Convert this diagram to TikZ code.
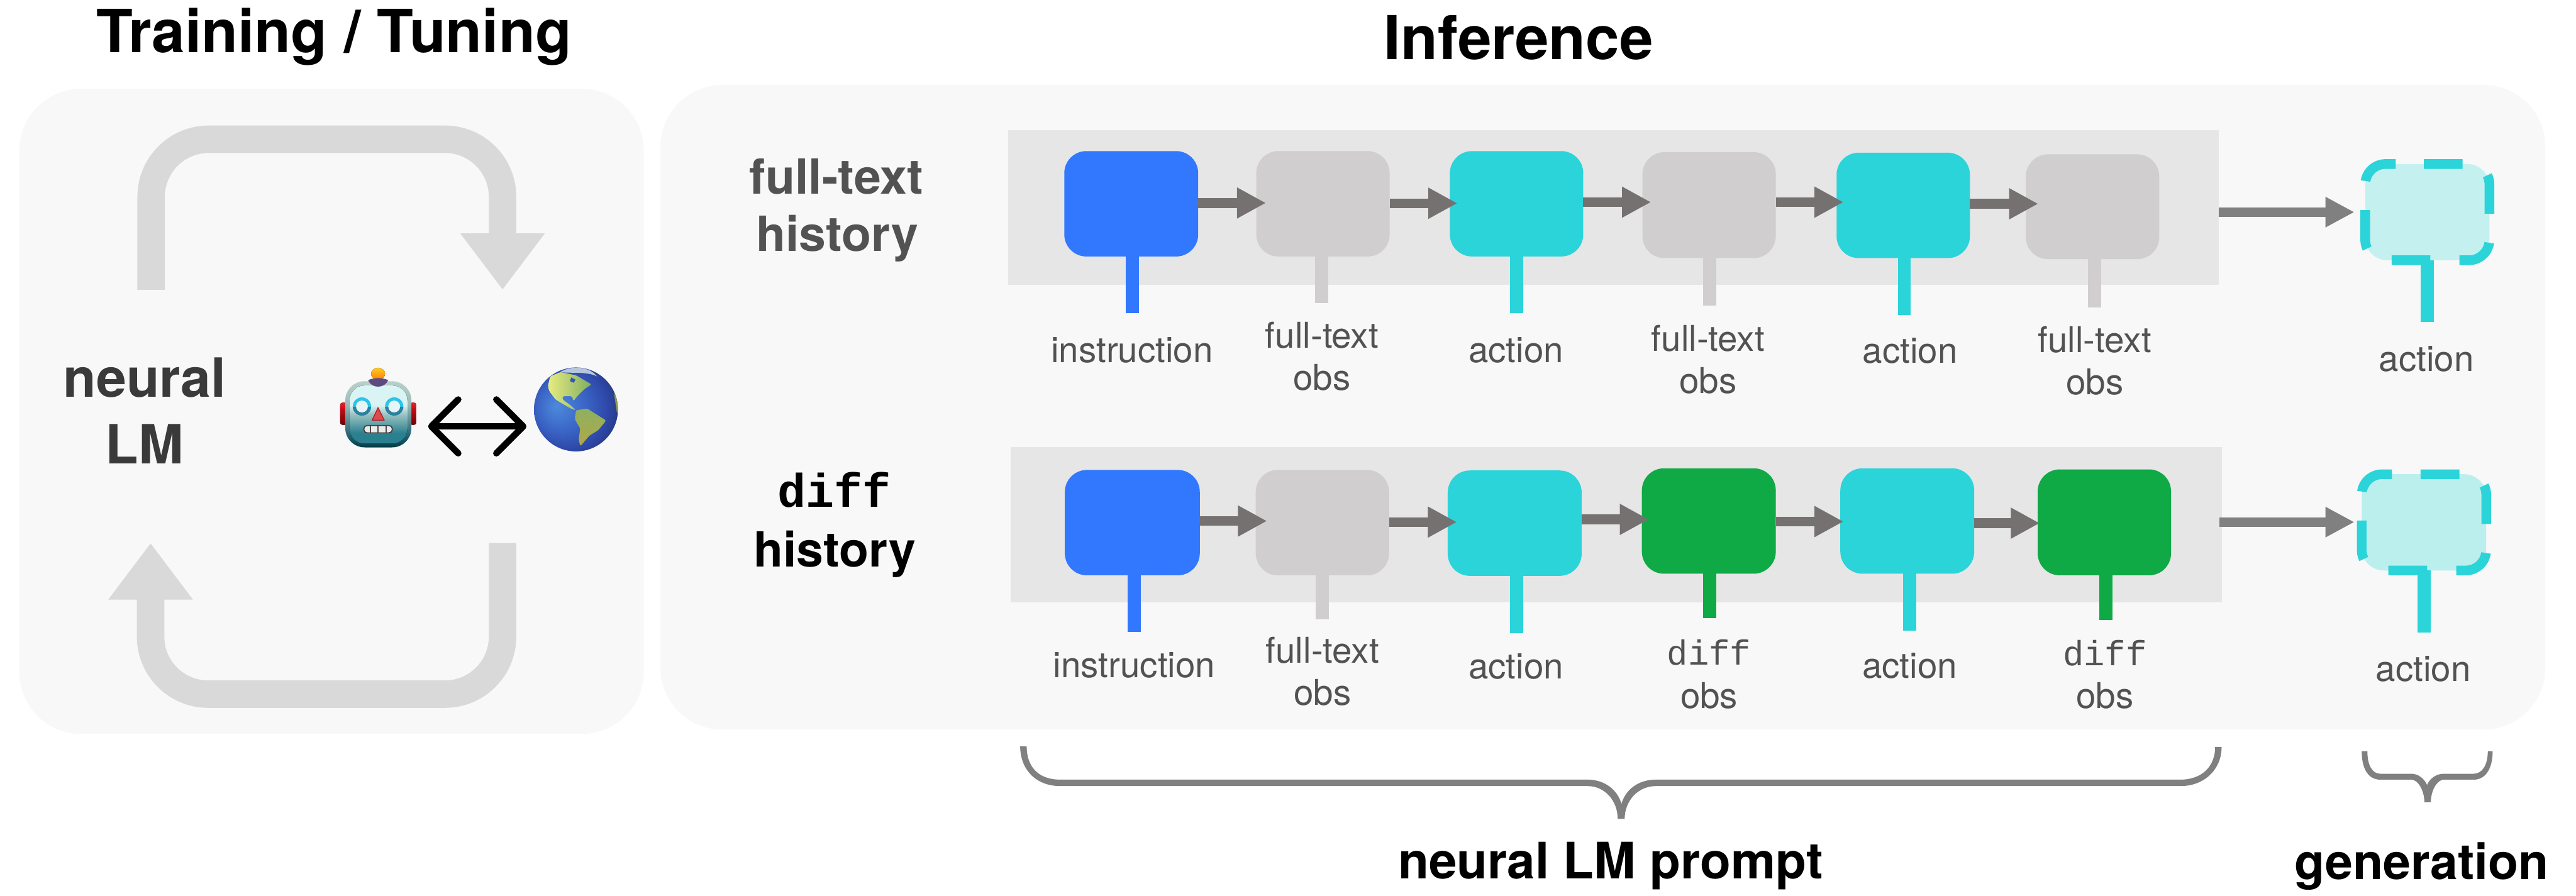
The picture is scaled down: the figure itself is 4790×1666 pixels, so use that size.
\documentclass[tikz,border=0pt]{standalone}
\usepackage{fontspec}
\setmainfont{TeX Gyre Heros}
\newfontfamily\lmono{Liberation Mono}
\usetikzlibrary{arrows.meta,calc,shapes.geometric}
\definecolor{panelc}{HTML}{F8F8F8}
\definecolor{bandc}{HTML}{E6E6E6}
\definecolor{bluec}{HTML}{3278FF}
\definecolor{grayc}{HTML}{D0CECE}
\definecolor{tealc}{HTML}{2BD4D9}
\definecolor{greenc}{HTML}{0FA945}
\definecolor{flowc}{HTML}{767171}
\definecolor{genflowc}{HTML}{808080}
\definecolor{txtc}{HTML}{525252}
\definecolor{loopc}{HTML}{D9D9D9}
\definecolor{genfa}{HTML}{C5F0F0}
\definecolor{genfb}{HTML}{BBEFED}
\definecolor{neuralc}{HTML}{3A3A3A}
\definecolor{nameL}{HTML}{E8EC80}
\definecolor{nameR}{HTML}{7FAE62}
\definecolor{sameT}{HTML}{8FB060}
\definecolor{sameB}{HTML}{B0A848}
\definecolor{africa}{HTML}{8A9A48}
\definecolor{arctic}{HTML}{B8C6DC}
\definecolor{hudson}{HTML}{3358B0}
\definecolor{capc}{HTML}{5C4B80}
\definecolor{eyeup}{HTML}{2CC4EA}
\definecolor{eyelow}{HTML}{2F7F9E}
\definecolor{eyein}{HTML}{E6F6F8}
\definecolor{nosec}{HTML}{DE4A4E}
\definecolor{nosee}{HTML}{A82020}
\pgfdeclareverticalshading{robotout}{100bp}{rgb(0bp)=(0.01,0.23,0.27); rgb(25bp)=(0.01,0.23,0.27); rgb(32bp)=(0.10,0.36,0.42); rgb(58bp)=(0.62,0.74,0.72); rgb(75bp)=(0.72,0.82,0.79); rgb(100bp)=(0.72,0.82,0.79)}
\pgfdeclareverticalshading{robotin}{100bp}{rgb(0bp)=(0.17,0.50,0.56); rgb(25bp)=(0.17,0.50,0.56); rgb(34bp)=(0.17,0.50,0.56); rgb(50bp)=(0.60,0.76,0.76); rgb(58bp)=(0.86,0.95,0.95); rgb(75bp)=(0.85,0.96,0.96); rgb(100bp)=(0.85,0.96,0.96)}
\pgfdeclareverticalshading{earshade}{100bp}{rgb(0bp)=(0.45,0,0); rgb(25bp)=(0.45,0,0); rgb(60bp)=(0.75,0.05,0.1); rgb(75bp)=(0.93,0.12,0.15); rgb(100bp)=(0.93,0.12,0.15)}
\pgfdeclareverticalshading{bulb}{100bp}{rgb(0bp)=(1,0.50,0); rgb(25bp)=(1,0.50,0); rgb(75bp)=(1,0.80,0.15); rgb(100bp)=(1,0.80,0.15)}
\pgfdeclareradialshading{globeshade}{\pgfpoint{-12bp}{2bp}}{rgb(0bp)=(0.30,0.54,0.86); rgb(14bp)=(0.23,0.40,0.78); rgb(25bp)=(0.18,0.28,0.66); rgb(32bp)=(0.14,0.22,0.48); rgb(50bp)=(0.1,0.14,0.3)}
\tikzset{
  boxn/.style={rectangle,rounded corners=0.41cm,inner sep=0pt,outer sep=0pt},
  bandn/.style={rectangle,fill=bandc,inner sep=0pt,outer sep=0pt},
  paneln/.style={rectangle,fill=panelc,rounded corners=1.15cm,inner sep=0pt,outer sep=0pt},
  stemline/.style={line width=0.245cm},
  flow/.style={draw=flowc,line width=0.18cm,-{Triangle[length=0.54cm,width=0.54cm]}},
  genflow/.style={draw=genflowc,line width=0.175cm,-{Triangle[length=0.54cm,width=0.53cm]}},
  looparrow/.style={draw=loopc,line width=0.51cm,rounded corners=1.07cm,-{Triangle[length=1.05cm,width=1.5cm]}},
  gendash/.style={draw=tealc,line width=0.18cm,dash pattern=on 0.72cm off 0.54cm},
  lab/.style={anchor=base,inner sep=0pt,outer sep=0pt,text=txtc,font=\fontsize{18.8pt}{20pt}\selectfont},
  monolab/.style={lab,font=\lmono\fontsize{18.5pt}{20pt}\selectfont},
  hist/.style={anchor=base,inner sep=0pt,outer sep=0pt,font=\bfseries\fontsize{25.6pt}{27pt}\selectfont},
  title/.style={anchor=base,inner sep=0pt,outer sep=0pt,text=black,font=\bfseries\fontsize{#1pt}{#1pt}\selectfont},
  bracefill/.style={fill=genflowc},
}
\newcommand\mkbox[7][boxn]{\node[#1,fill=#7,minimum width={(#4-#2)*0.01cm},minimum height={(#5-#3)*0.01cm}] (#6) at ({(#2+#4)/2},{(#3+#5)/2}) {};}
\newcommand\stem[4]{\coordinate (#1s) at (#2,#3); \draw[stemline,draw=#4] (#1.south -| #1s) -- (#1s);}
\newcommand\flowar[4]{\draw[flow,shorten >=-#4*0.01cm] (#1.east |- 0,#3) -- (#2.west |- 0,#3);}
\begin{document}
\begin{tikzpicture}[x=0.01cm,y=-0.01cm]
\useasboundingbox (0,0) rectangle (4790,1666);
% panels
\mkbox[paneln]{36}{165}{1197}{1365}{trainpanel}{panelc}
\mkbox[paneln]{1228}{158}{4733}{1357}{infpanel}{panelc}
% titles
\node[title=31.5] (ttrain) at (621,98) {Training / Tuning};
\node[title=32] (tinf) at (2824,110) {Inference};
% loop arrows
\coordinate (la) at (281,539); \coordinate (lb) at (281,259); \coordinate (lc) at (934.5,259); \coordinate (ld) at (934.5,539);
\draw[looparrow] (la) -- (lb) -- (lc) -- (ld);
\coordinate (le) at (934.5,1010); \coordinate (lf) at (934.5,1291); \coordinate (lg) at (280,1291); \coordinate (lh) at (280,1010);
\draw[looparrow] (le) -- (lf) -- (lg) -- (lh);
\node[title=28.6,text=neuralc] (neural) at (269,738) {neural};
\node[title=28.6,text=neuralc] (lm) at (269,862) {LM};
% robot
\fill[shading=earshade,rounded corners=0.04cm] (632.5,749) rectangle (645,790);
\fill[shading=earshade,rounded corners=0.04cm] (762,749) rectangle (774,790);
\node[boxn,rounded corners=0.36cm,shading=robotout,minimum width=1.23cm,minimum height=1.23cm] (robot) at (703.5,770.5) {};
\fill[shading=robotin,rounded corners=0.28cm] (650,717) rectangle (757.5,825);
\fill[shading=bulb] (703,695) ellipse [x radius=13,y radius=11];
\fill[capc] (684.6,707) .. controls (695,702) and (711,702) .. (721.7,707) .. controls (718,715) and (712,719) .. (703,719) .. controls (694,719) and (688,715) .. (684.6,707) -- cycle;
\foreach \ex in {673,733}{
  \fill[eyeup] (\ex,756) circle [radius=17];
  \begin{scope}
    \clip (\ex-20,757) rectangle (\ex+20,775);
    \fill[eyelow] (\ex,756) circle [radius=17];
  \end{scope}
  \fill[eyein] (\ex,756) circle [radius=11];
}
\fill[nosec,draw=nosee,line width=0.015cm,line join=round] (703,758) -- (714.5,781.5) -- (692,781.5) -- cycle;
\draw[black!75,fill=black!8,line width=0.02cm,rounded corners=0.06cm] (676.5,791.5) rectangle (729.5,805);
\foreach \mx in {689,703,718}{\draw[black!70,line width=0.025cm] (\mx,791.5) -- (\mx,805);}
% globe
\node[circle,shading=globeshade,minimum size=1.56cm,inner sep=0pt,outer sep=0pt] (globe) at (1071,761.5) {};
\begin{scope}
\clip (1071,761.5) circle [radius=78];
\fill[arctic] (1042,692) .. controls (1060,680) and (1095,680) .. (1110,700) .. controls (1090,690) and (1060,695) .. (1042,692) -- cycle;
\shade[left color=nameL,right color=nameR,rounded corners=0.03cm] (1023,700) -- (1042,692) -- (1071,698) -- (1100,715) -- (1087.5,723) -- (1075,735) -- (1066,746) -- (1064,737) -- (1046,737) -- (1046,743) -- (1060,753) -- (1071,763) -- (1062,760) -- (1048,752) -- (1033,743) -- (1021,727) -- (1019,717) -- cycle;
\fill[hudson] (1062,702) -- (1070,706) -- (1067,712) -- (1060,709) -- cycle;
\shade[top color=sameT,bottom color=sameB,rounded corners=0.03cm] (1071,763) -- (1092,760) -- (1127,782) -- (1112.5,800) -- (1096,810) -- (1079,830) -- (1076,817) -- (1079,797) -- (1069,780) -- cycle;
\fill[africa] (1142,733) -- (1152,733) -- (1152,767) -- (1147,767) -- cycle;
\end{scope}
\draw[line width=0.12cm,{Straight Barb[length=0.5cm,width=1.0cm,round]}-{Straight Barb[length=0.5cm,width=1.0cm,round]},shorten <=0.31cm,shorten >=0.14cm] (robot.east |- 0,793) -- (globe.west |- 0,793);
% bands
\mkbox[bandn]{1874}{242}{4126}{530}{bandA}{bandc}
\mkbox[bandn]{1879}{832}{4131}{1120}{bandB}{bandc}
% row 1 boxes
\mkbox{1979}{281}{2228}{477}{aInstr}{bluec}
\mkbox{2336}{281}{2584}{477}{aObsA}{grayc}
\mkbox{2696}{281}{2944}{477}{aActA}{tealc}
\mkbox{3054}{283}{3302}{480}{aObsB}{grayc}
\mkbox{3415}{284}{3663}{480}{aActB}{tealc}
\mkbox{3767}{287}{4015}{482}{aObsC}{grayc}
\mkbox{4398}{305}{4629}{484}{aGen}{genfa}
% row 2 boxes
\mkbox{1980}{874}{2231}{1070}{bInstr}{bluec}
\mkbox{2335}{874}{2583}{1070}{bObsA}{grayc}
\mkbox{2692}{875}{2941}{1071}{bActA}{tealc}
\mkbox{3053}{871}{3302}{1067}{bDifA}{greenc}
\mkbox{3422}{871}{3671}{1067}{bActB}{tealc}
\mkbox{3789}{873}{4037}{1070}{bDifB}{greenc}
\mkbox{4391.5}{882}{4623}{1061}{bGen}{genfb}
% stems
\stem{aInstr}{2106}{582}{bluec}
\stem{aObsA}{2458}{564}{grayc}
\stem{aActA}{2820}{582}{tealc}
\stem{aObsB}{3179}{568}{grayc}
\stem{aActB}{3541}{586}{tealc}
\stem{aObsC}{3895}{572}{grayc}
\stem{aGen}{4513.5}{599}{tealc}
\stem{bInstr}{2109}{1175}{bluec}
\stem{bObsA}{2459}{1152}{grayc}
\stem{bActA}{2820}{1178}{tealc}
\stem{bDifA}{3179}{1149}{greenc}
\stem{bActB}{3551}{1173}{tealc}
\stem{bDifB}{3916}{1153}{greenc}
\stem{bGen}{4507}{1176}{tealc}
% dashed generation outlines
\draw[gendash] (4507,305) -- (4591,305) .. controls (4612,305) and (4629,322) .. (4629,343) -- (4629,446) .. controls (4629,467) and (4612,484) .. (4591,484) -- (4436,484) .. controls (4415,484) and (4398,467) .. (4398,446) -- (4398,343) .. controls (4398,322) and (4415,305) .. (4436,305) -- cycle;
\draw[gendash] (4501,882) -- (4585,882) .. controls (4606,882) and (4623,899) .. (4623,920) -- (4623,1023) .. controls (4623,1044) and (4606,1061) .. (4585,1061) -- (4429.5,1061) .. controls (4408.5,1061) and (4391.5,1044) .. (4391.5,1023) -- (4391.5,920) .. controls (4391.5,899) and (4408.5,882) .. (4429.5,882) -- cycle;
% flows
\flowar{aInstr}{aObsA}{377.5}{18}
\flowar{aObsA}{aActA}{378}{14}
\flowar{aActA}{aObsB}{376}{16}
\flowar{aObsB}{aActB}{376}{13}
\flowar{aActB}{aObsC}{379}{23}
\flowar{bInstr}{bObsA}{969}{21}
\flowar{bObsA}{bActA}{971}{17}
\flowar{bActA}{bDifA}{966}{13}
\flowar{bDifA}{bActB}{970}{6}
\flowar{bActB}{bDifB}{973}{4}
\draw[genflow,shorten >=0.20cm] (bandA.east |- 0,394.5) -- (aGen.west |- 0,394.5);
\draw[genflow,shorten <=-0.04cm,shorten >=0.135cm] (bandB.east |- 0,971) -- (bGen.west |- 0,971);
% history labels
\node[hist,text=txtc] (hA) at (1555,360.5) {full-text};
\node[hist,text=txtc] (hB) at (1557,467) {history};
\node[anchor=base,inner sep=0pt,outer sep=0pt,text=black,font=\lmono\bfseries\fontsize{25pt}{27pt}\selectfont] (hC) at (1551,943) {diff};
\node[hist,text=black] (hD) at (1552,1054) {history};
% row 1 labels
\node[lab] (l1) at (2105,674) {instruction};
\node[lab] (l2) at (2458,647.5) {full-text};
\node[lab] (l3) at (2458,726) {obs};
\node[lab] (l4) at (2819,674) {action};
\node[lab] (l5) at (3176,653) {full-text};
\node[lab] (l6) at (3176,732) {obs};
\node[lab] (l7) at (3552,675) {action};
\node[lab] (l8) at (3895,655) {full-text};
\node[lab] (l9) at (3895,734) {obs};
\node[lab] (l10) at (4512,691) {action};
% row 2 labels
\node[lab] (m1) at (2109,1259.5) {instruction};
\node[lab] (m2) at (2459,1233) {full-text};
\node[lab] (m3) at (2459,1311) {obs};
\node[lab] (m4) at (2819,1262) {action};
\node[monolab] (m5) at (3178,1237) {diff};
\node[lab] (m6) at (3178,1317) {obs};
\node[lab] (m7) at (3551,1260.7) {action};
\node[monolab] (m8) at (3914,1238) {diff};
\node[lab] (m9) at (3914,1317) {obs};
\node[lab] (m10) at (4506,1267) {action};
% braces
\fill[bracefill] (1909,1388) .. controls (1909,1420) and (1925,1450) .. (1972,1450) -- (2952,1450) .. controls (2985,1450) and (3008,1470) .. (3015,1495) .. controls (3022,1470) and (3045,1450) .. (3079,1450) -- (4054,1450) .. controls (4095,1450) and (4119,1425) .. (4119,1389) -- (4131,1389) .. controls (4131,1430) and (4100,1462) .. (4054,1462) -- (3079,1462) .. controls (3045,1462) and (3021,1490) .. (3021,1523) -- (3008,1523) .. controls (3008,1490) and (2985,1462) .. (2952,1462) -- (1972,1462) .. controls (1925,1462) and (1897,1430) .. (1897,1388) -- cycle;
\fill[bracefill] (4402,1397) .. controls (4402,1425) and (4412,1439) .. (4426,1439) -- (4484,1439) .. controls (4496,1439) and (4508,1448) .. (4513,1460) .. controls (4518,1448) and (4530,1439) .. (4544,1439) -- (4600,1439) .. controls (4614,1439) and (4626,1425) .. (4626,1397) -- (4635,1397) .. controls (4635,1432) and (4620,1450) .. (4600,1450) -- (4544,1450) .. controls (4532,1450) and (4520,1470) .. (4520,1492) -- (4508,1492) .. controls (4508,1470) and (4496,1450) .. (4484,1450) -- (4426,1450) .. controls (4405,1450) and (4391.5,1432) .. (4391.5,1397) -- cycle;
\node[title=26.6] (tprompt) at (2995,1634) {neural LM prompt};
\node[title=26.2] (tgen) at (4503,1635) {generation};
\end{tikzpicture}
\end{document}
